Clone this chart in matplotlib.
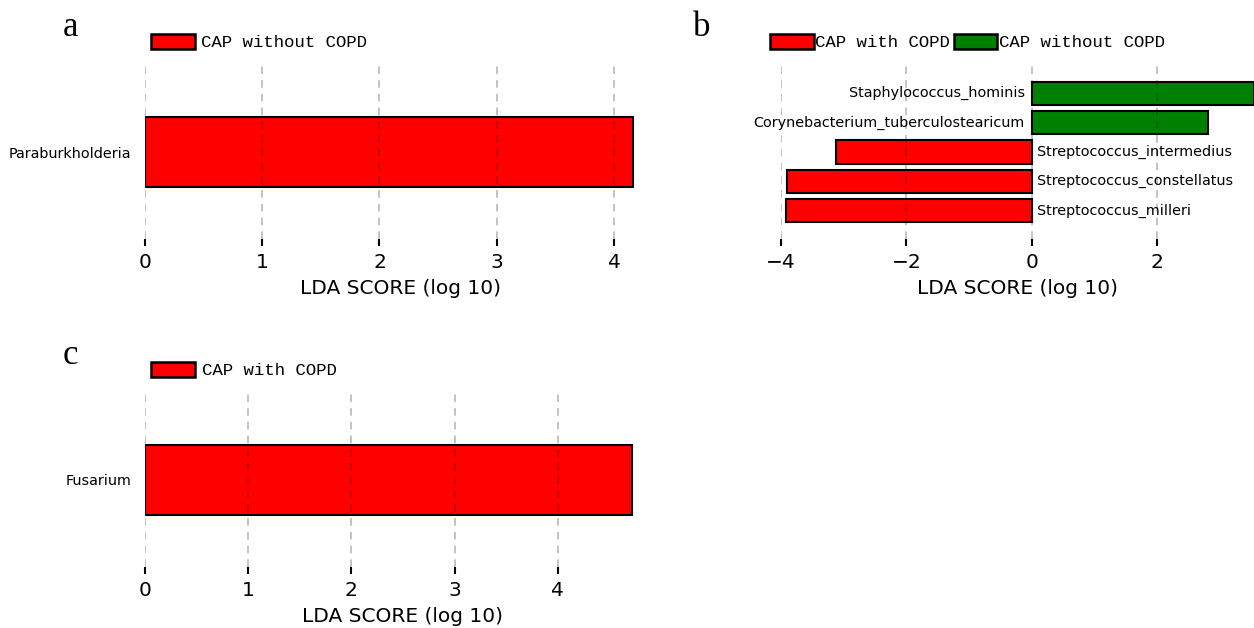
import matplotlib
matplotlib.use("Agg")
import matplotlib.pyplot as plt
from matplotlib.patches import Patch

# panel a
a_taxa = ["Paraburkholderia"]
a_lda = [4.16]
# panel b
b_taxa = ["Streptococcus_milleri", "Streptococcus_constellatus",
          "Streptococcus_intermedius", "Corynebacterium_tuberculostearicum",
          "Staphylococcus_hominis"]
b_lda = [-3.92, -3.90, -3.12, 2.82, 3.55]
# panel c
c_taxa = ["Fusarium"]
c_lda = [4.72]

RED = "#ff0000"
GREEN = "#008000"
W, H = 1254, 628

fig = plt.figure(figsize=(W / 100, H / 100), dpi=100)


def px_axes(left, right, top, bottom):
    return fig.add_axes([left / W, 1 - bottom / H, (right - left) / W, (bottom - top) / H])


def style(ax, ticks):
    for s in ax.spines.values():
        s.set_visible(False)
    ax.set_xticks(ticks)
    ax.tick_params(axis="x", direction="out", length=5, width=1.5, labelsize=14.5, pad=5)
    ax.tick_params(axis="y", length=0, labelsize=10.4, pad=10)
    ax.grid(axis="x", color="black", alpha=0.3, linestyle=(0, (5, 4)), linewidth=1.1, zorder=3)
    ax.set_axisbelow(False)
    ax.set_xlabel("LDA SCORE (log 10)", fontsize=14.5, labelpad=5)


def legend(ax, labels, colors, x, y, textpad):
    handles = [Patch(facecolor=c, edgecolor="black", linewidth=1.8) for c in colors]
    ax.legend(handles, labels, loc="center left", bbox_to_anchor=(x, y), ncol=len(labels),
              frameon=False, borderaxespad=0, borderpad=0, handlelength=2.5, handleheight=0.95,
              handletextpad=textpad, columnspacing=0.2,
              prop={"family": "Liberation Mono", "size": 12.5})


# a
ax = px_axes(145, 655, 65, 239)
ax.barh(range(len(a_taxa)), a_lda, height=0.4, color=RED, edgecolor="black", linewidth=1.5)
ax.set_yticks(range(len(a_taxa)))
ax.set_yticklabels(a_taxa)
ax.set_xlim(0, 4.35)
ax.set_ylim(-0.5, 0.5)
style(ax, [0, 1, 2, 3, 4])
legend(ax, ["CAP without COPD"], [RED], 0.012, 1.132, 0.4)

# b
ax = px_axes(781, 1254, 65, 239)
cols = [GREEN if v > 0 else RED for v in b_lda]
ax.barh(range(len(b_taxa)), b_lda, height=0.8, color=cols, edgecolor="black", linewidth=1.5)
for i, (t, v) in enumerate(zip(b_taxa, b_lda)):
    if v > 0:
        ax.annotate(t, (0, i), xytext=(-5, 0), textcoords="offset points",
                    ha="right", va="center", fontsize=10.4)
    else:
        ax.annotate(t, (0, i), xytext=(4, 0), textcoords="offset points",
                    ha="left", va="center", fontsize=10.4)
ax.set_yticks([])
ax.set_xlim(-4.0, 3.55)
ax.set_ylim(-0.97, 4.97)
style(ax, [-4, -2, 0, 2])
legend(ax, ["CAP with COPD", "CAP without COPD"], [RED, GREEN], -0.023, 1.132, 0.1)

# c
ax = px_axes(145, 661, 392, 567)
ax.barh(range(len(c_taxa)), c_lda, height=0.4, color=RED, edgecolor="black", linewidth=1.5)
ax.set_yticks(range(len(c_taxa)))
ax.set_yticklabels(c_taxa)
ax.set_xlim(0, 5.0)
ax.set_ylim(-0.5, 0.5)
style(ax, [0, 1, 2, 3, 4])
legend(ax, ["CAP with COPD"], [RED], 0.012, 1.126, 0.4)

for t, x, y in [("a", 63, 36), ("b", 693, 36), ("c", 63, 364)]:
    fig.text(x / W, 1 - y / H, t, fontsize=25, family="Liberation Serif", va="baseline")

fig.savefig("out.png", dpi=100)
